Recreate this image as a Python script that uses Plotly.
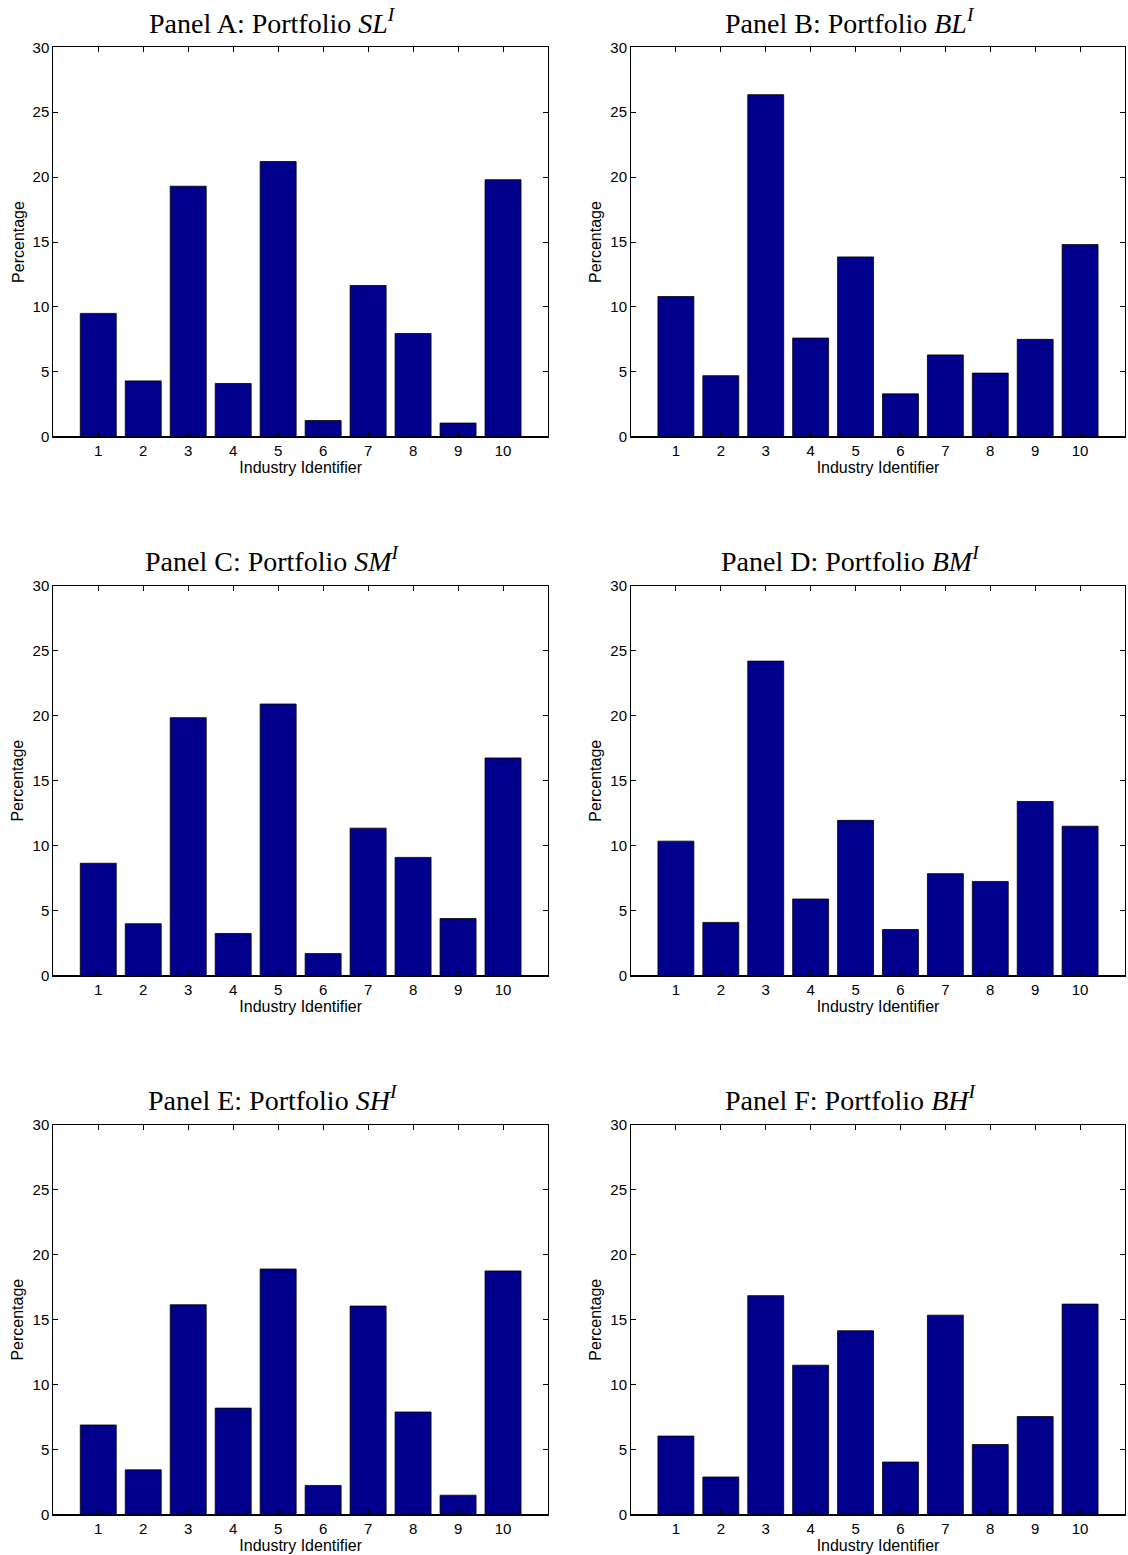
import plotly.graph_objects as go

industries = [1, 2, 3, 4, 5, 6, 7, 8, 9, 10]

sl = [9.5, 4.3, 19.3, 4.1, 21.2, 1.25, 11.65, 7.95, 1.05, 19.8]
bl = [10.8, 4.7, 26.35, 7.6, 13.85, 3.3, 6.3, 4.9, 7.5, 14.8]
sm = [8.65, 4.0, 19.85, 3.25, 20.9, 1.7, 11.35, 9.1, 4.4, 16.75]
bm = [10.35, 4.1, 24.2, 5.9, 11.95, 3.55, 7.85, 7.25, 13.4, 11.5]
sh = [6.9, 3.45, 16.15, 8.2, 18.9, 2.25, 16.05, 7.9, 1.5, 18.75]
bh = [6.05, 2.9, 16.85, 11.5, 14.15, 4.05, 15.35, 5.4, 7.55, 16.2]

panel_titles = [
    "Panel A: Portfolio <i>SL</i><sup><i>I</i></sup>",
    "Panel B: Portfolio <i>BL</i><sup><i>I</i></sup>",
    "Panel C: Portfolio <i>SM</i><sup><i>I</i></sup>",
    "Panel D: Portfolio <i>BM</i><sup><i>I</i></sup>",
    "Panel E: Portfolio <i>SH</i><sup><i>I</i></sup>",
    "Panel F: Portfolio <i>BH</i><sup><i>I</i></sup>",
]
series = [sl, bl, sm, bm, sh, bh]
y_ticks = [0, 5, 10, 15, 20, 25, 30]

W, H = 1128, 1555
col_px = [(53.3, 548), (631, 1125)]
row_px = [(47.3, 436.7), (585.7, 975.7), (1124.7, 1514.7)]

fig = go.Figure()
layout = dict(width=W, height=H, margin=dict(l=0, r=0, t=0, b=0, pad=0),
              paper_bgcolor="white", plot_bgcolor="white", showlegend=False,
              bargap=0.2)
annotations = []
tick_font = dict(family="Liberation Sans, Arial, sans-serif", size=15, color="black")
label_font = dict(family="Liberation Sans, Arial, sans-serif", size=16, color="black")

for i, (title, vals) in enumerate(zip(panel_titles, series)):
    r, c = divmod(i, 2)
    x0, x1 = col_px[c]
    yt, yb = row_px[r]
    n = i + 1
    xa = "xaxis" if n == 1 else f"xaxis{n}"
    ya = "yaxis" if n == 1 else f"yaxis{n}"
    xref = "x" if n == 1 else f"x{n}"
    yref = "y" if n == 1 else f"y{n}"
    fig.add_trace(go.Bar(x=industries, y=vals, width=0.8,
                         marker=dict(color="#00008c", line=dict(color="black", width=0.8)),
                         xaxis=xref, yaxis=yref))
    layout[xa] = dict(domain=[x0 / W, x1 / W], anchor=yref, range=[0, 11],
                      tickmode="array", tickvals=industries, ticktext=[str(v) for v in industries],
                      ticks="inside", ticklen=5, tickcolor="black", showline=True,
                      linecolor="black", linewidth=1, mirror="allticks", showgrid=False,
                      zeroline=False, tickfont=tick_font, automargin=False,
                      title=dict(text="Industry Identifier", font=label_font, standoff=0))
    layout[ya] = dict(domain=[1 - yb / H, 1 - yt / H], anchor=xref, range=[0, 30],
                      tickmode="array", tickvals=y_ticks, ticks="inside", ticklen=5,
                      tickcolor="black", showline=True, linecolor="black", linewidth=1,
                      mirror="allticks", showgrid=False, zeroline=True, zerolinecolor="black",
                      zerolinewidth=2, tickfont=tick_font, automargin=False,
                      title=dict(text="Percentage", font=label_font, standoff=4))
    annotations.append(dict(text=title, xref="paper", yref="paper",
                            x=((x0 + x1) / 2 - 28) / W, y=1 - (yt - 26) / H,
                            xanchor="center", yanchor="middle", showarrow=False,
                            font=dict(family="Liberation Serif, Times New Roman, serif",
                                      size=28, color="black")))

layout["annotations"] = annotations
fig.update_layout(**layout)
fig.write_html("out.html",
               config={"displayModeBar": False, "staticPlot": True},
               post_script="document.body.style.margin='0';document.body.style.padding='0';"
                           "document.documentElement.style.overflow='hidden';")
